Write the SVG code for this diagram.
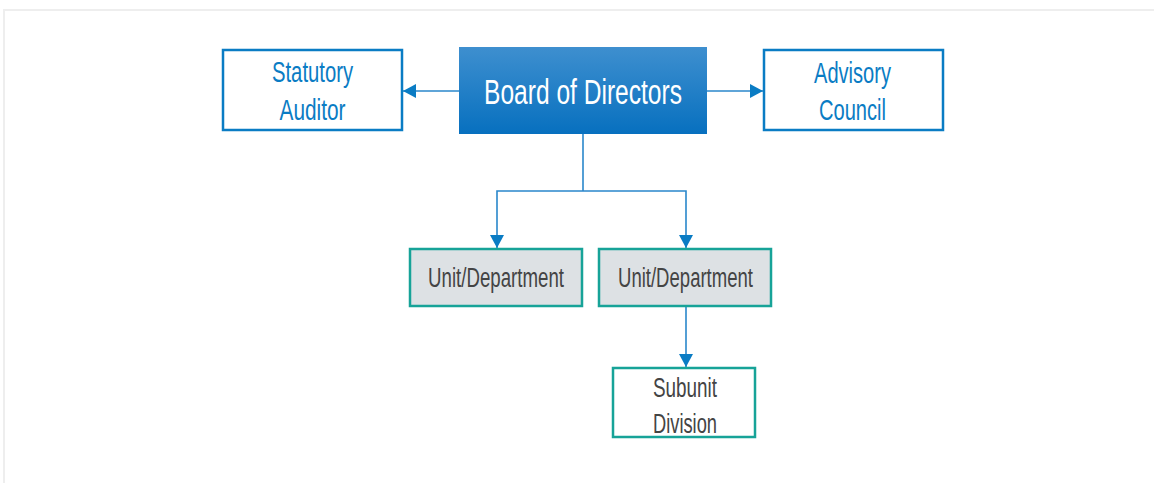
<svg xmlns="http://www.w3.org/2000/svg" width="1154" height="483" viewBox="0 0 1154 483">
  <style>
    .frame { fill: none; stroke: #eeeeee; stroke-width: 2; }
    .blue-box { fill: #ffffff; stroke: #0a7cc4; stroke-width: 2.5; }
    .teal-box { stroke: #17a398; stroke-width: 2.5; }
    .gray { fill: #dde1e4; }
    .white { fill: #ffffff; }
    .conn { fill: none; stroke: #2a87cb; stroke-width: 1.6; }
    text { font-family: "Liberation Sans", Arial, sans-serif; text-anchor: middle; }
    .t-blue { fill: #0a7cc4; font-size: 30px; }
    .t-white { fill: #ffffff; font-size: 35px; }
    .t-dark { fill: #444444; font-size: 27px; }
  </style>
  <defs>
    <linearGradient id="boardGrad" x1="0" y1="0" x2="0" y2="1">
      <stop offset="0" stop-color="#3e8fcf"/>
      <stop offset="1" stop-color="#0770bf"/>
    </linearGradient>
    <marker id="arrow" markerUnits="userSpaceOnUse" markerWidth="14" markerHeight="14" refX="13" refY="7" orient="auto">
      <path d="M0,0 L13,7 L0,14 z" fill="#0a7cc4"/>
    </marker>
  </defs>
  <rect width="1154" height="483" fill="#ffffff"/>
  <path class="frame" d="M4,483 L4,10 L1154,10"/>

  <g id="connectors">
    <line class="conn" x1="459" y1="91" x2="403" y2="91" marker-end="url(#arrow)"/>
    <line class="conn" x1="707" y1="91" x2="763" y2="91" marker-end="url(#arrow)"/>
    <line class="conn" x1="583" y1="134" x2="583" y2="191"/>
    <path class="conn" d="M583,191 L497,191 L497,248" marker-end="url(#arrow)"/>
    <path class="conn" d="M583,191 L686,191 L686,248" marker-end="url(#arrow)"/>
    <line class="conn" x1="686" y1="306" x2="686" y2="367" marker-end="url(#arrow)"/>
  </g>

  <g id="statutory-auditor">
    <rect class="blue-box" x="223" y="50" width="179" height="80"/>
    <text class="t-blue" x="312.5" y="82" textLength="81" lengthAdjust="spacingAndGlyphs">Statutory</text>
    <text class="t-blue" x="312.5" y="120" textLength="66" lengthAdjust="spacingAndGlyphs">Auditor</text>
  </g>

  <g id="board-of-directors">
    <rect x="459" y="47" width="248" height="87" fill="url(#boardGrad)"/>
    <text class="t-white" x="583" y="104" textLength="198" lengthAdjust="spacingAndGlyphs">Board of Directors</text>
  </g>

  <g id="advisory-council">
    <rect class="blue-box" x="764" y="50" width="179" height="80"/>
    <text class="t-blue" x="852.5" y="82.5" textLength="77" lengthAdjust="spacingAndGlyphs">Advisory</text>
    <text class="t-blue" x="852.5" y="120" textLength="67" lengthAdjust="spacingAndGlyphs">Council</text>
  </g>

  <g id="unit-department-1">
    <rect class="teal-box gray" x="410" y="249" width="172" height="57"/>
    <text class="t-dark" x="496" y="287" textLength="136" lengthAdjust="spacingAndGlyphs">Unit/Department</text>
  </g>

  <g id="unit-department-2">
    <rect class="teal-box gray" x="599" y="249" width="172" height="57"/>
    <text class="t-dark" x="685.5" y="287" textLength="135" lengthAdjust="spacingAndGlyphs">Unit/Department</text>
  </g>

  <g id="subunit-division">
    <rect class="teal-box white" x="613" y="368" width="142" height="69"/>
    <text class="t-dark" x="685" y="397" textLength="64" lengthAdjust="spacingAndGlyphs">Subunit</text>
    <text class="t-dark" x="685" y="433" textLength="64" lengthAdjust="spacingAndGlyphs">Division</text>
  </g>
</svg>
